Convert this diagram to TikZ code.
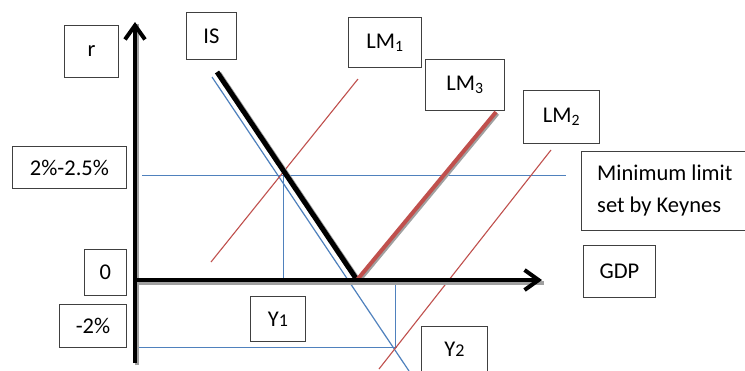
\documentclass[tikz,border=0pt]{standalone}
\usepackage{fontspec}
\setmainfont{Carlito}
\usetikzlibrary{arrows.meta}
\definecolor{lblue}{HTML}{4F81BD}
\definecolor{lred}{HTML}{C0504D}
\definecolor{bord}{HTML}{404040}
\definecolor{shad}{HTML}{A0A0A0}
\begin{document}
\begin{tikzpicture}[x=1pt,y=-1pt,
  box/.style={draw=bord, line width=0.9pt, inner sep=0pt, anchor=north west,
    font=\fontsize{22.5}{26}\selectfont},
  thinblue/.style={draw=lblue, line width=1.2pt},
  thinred/.style={draw=lred, line width=1.1pt},
  axis/.style={line width=4pt, -{Straight Barb[length=14pt,width=20pt]}}]
\useasboundingbox[fill=white] (0,0) rectangle (745,370);

% label boxes
\node[box, minimum width=54, minimum height=52] (r) at (64,25) {r\hspace{16pt}};
\node[box, minimum width=50, minimum height=47] (IS) at (186,12) {IS};
\node[box, minimum width=114, minimum height=42] (p2) at (12,146) {2\%-2.5\%};
\node[box, minimum width=73, minimum height=50] (LM1) at (348,17) {LM\textsubscript{1}};
\node[box, minimum width=79, minimum height=51] (LM3) at (425,59) {LM\textsubscript{3}\hspace{6pt}};
\node[box, minimum width=76, minimum height=53] (LM2) at (523,90) {LM\textsubscript{2}\hspace{6pt}};
\node[box, minimum width=164, minimum height=79] (mlbox) at (581,151) {};
\node[anchor=west, align=left, inner sep=0pt, font=\fontsize{22.5}{32}\selectfont] (mltext) at (597,190) {Minimum limit\\set by Keynes};
\node[box, minimum width=72, minimum height=52] (GDP) at (583,245) {GDP};
\node[box, minimum width=42, minimum height=46] (zero) at (84,249) {0};
\node[box, minimum width=67, minimum height=43] (m2) at (59,304) {-2\%};
\node[box, minimum width=55, minimum height=45] (Y1) at (250,296) {Y{\fontsize{18}{18}\selectfont 1}};
\node[box, minimum width=66, minimum height=46] (Y2) at (421,326) {Y{\fontsize{18}{18}\selectfont 2}\hspace{14pt}};

% coordinates
\coordinate (hA) at (142,175.5); \coordinate (hB) at (566,175.5);
\coordinate (lA) at (137,347.5); \coordinate (lB) at (397,347.5);
\coordinate (isA) at (212,77); \coordinate (isB) at (409,371);
\coordinate (y1A) at (283.5,175); \coordinate (y1B) at (283.5,279);
\coordinate (y2A) at (395.5,282); \coordinate (y2B) at (395.5,347);
\coordinate (lm1A) at (358,79); \coordinate (lm1B) at (211,262);
\coordinate (lm2A) at (551,150); \coordinate (lm2B) at (379,369);
\coordinate (kink) at (357,280); \coordinate (isTop) at (217,72);
\coordinate (lm3Top) at (496,112);
\coordinate (vB) at (135,363); \coordinate (vT) at (135,22);
\coordinate (hxA) at (137,280); \coordinate (hxB) at (542,280);

% thin lines
\draw[thinblue] (hA) -- (hB);
\draw[thinblue] (lA) -- (lB);
\draw[thinblue] (isA) -- (isB);
\draw[thinblue] (y1A) -- (y1B);
\draw[thinblue] (y2A) -- (y2B);
\draw[thinred] (lm1A) -- (lm1B);
\draw[thinred] (lm2A) -- (lm2B);

% shadows
\draw[shad, line width=4pt] ([shift={(1.5,3)}]hxA) -- ([shift={(1.5,3)}]hxB);
\draw[shad, line width=4pt] ([shift={(1.5,2)}]vB) -- ([shift={(1.5,2)}]vT);
\draw[shad, line width=5pt] ([shift={(2,1.5)}]isTop) -- ([shift={(2,1.5)}]kink);
\draw[shad, line width=4pt] ([shift={(1.5,1.5)}]kink) -- ([shift={(1.5,1.5)}]lm3Top);

% thick curves
\draw[black, line width=5pt] (isTop) -- (kink);
\draw[lred, line width=4pt] (kink) -- (lm3Top);

% axes
\draw[axis] (vB) -- (vT);
\draw[axis] (hxA) -- (hxB);
\end{tikzpicture}
\end{document}
